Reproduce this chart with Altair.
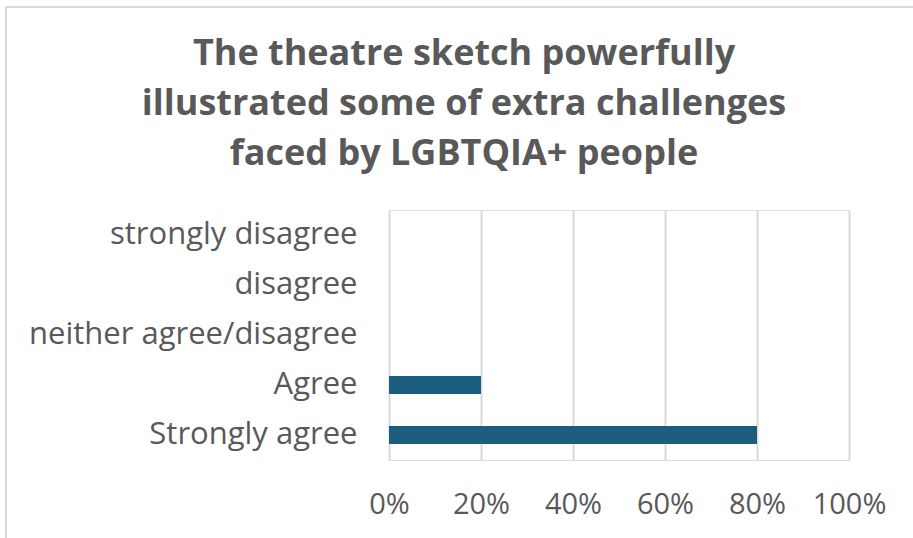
import altair as alt
import pandas as pd

categories = ["strongly disagree", "disagree", "neither agree/disagree", "Agree", "Strongly agree"]
values = [0.0, 0.0, 0.0, 0.20, 0.80]
x_ticks = [0, 0.2, 0.4, 0.6, 0.8, 1.0]
title_lines = ["The theatre sketch powerfully", "illustrated some of extra challenges", "faced by LGBTQIA+ people"]

df = pd.DataFrame({"category": categories, "value": values})

FONT = "Open Sans"
GREY = "#595959"

bars = alt.Chart(df).mark_bar(color="#1b5e80", size=18).encode(
    x=alt.X("value:Q", scale=alt.Scale(domain=[0, 1], nice=False),
            axis=alt.Axis(values=x_ticks, format=".0%", title=None, grid=True,
                          gridColor="#d9d9d9", gridWidth=2, domain=False, ticks=False,
                          labelFontSize=29, labelColor=GREY, labelFont=FONT,
                          labelPadding=30, labelOverlap=False, labelFlush=False)),
    y=alt.Y("category:N", sort=categories, scale=alt.Scale(paddingInner=0, paddingOuter=0),
            axis=alt.Axis(title=None, domain=False, ticks=False, grid=False,
                          labelFontSize=31, labelColor=GREY, labelFont=FONT,
                          labelPadding=32, labelLimit=400)),
)

border = alt.Chart(df).mark_rect(fill=None, stroke="#d9d9d9", strokeWidth=2, clip=False).encode(
    x=alt.value(-383), x2=alt.value(560), y=alt.value(-203), y2=alt.value(400)
)

chart = alt.layer(border, bars).properties(
    width=460, height=250,
    title=alt.TitleParams(title_lines, fontSize=36, fontWeight="bold", color=GREY, font=FONT,
                          anchor="middle", frame="group", dx=-155, offset=0, dy=167, lineHeight=50),
    autosize=alt.AutoSizeParams(type="none"),
    padding={"left": 389, "top": 210, "right": 64, "bottom": 78},
).configure_view(stroke=None).configure(background="white")

chart.save("out.html", embed_options={"renderer": "svg", "actions": False})
